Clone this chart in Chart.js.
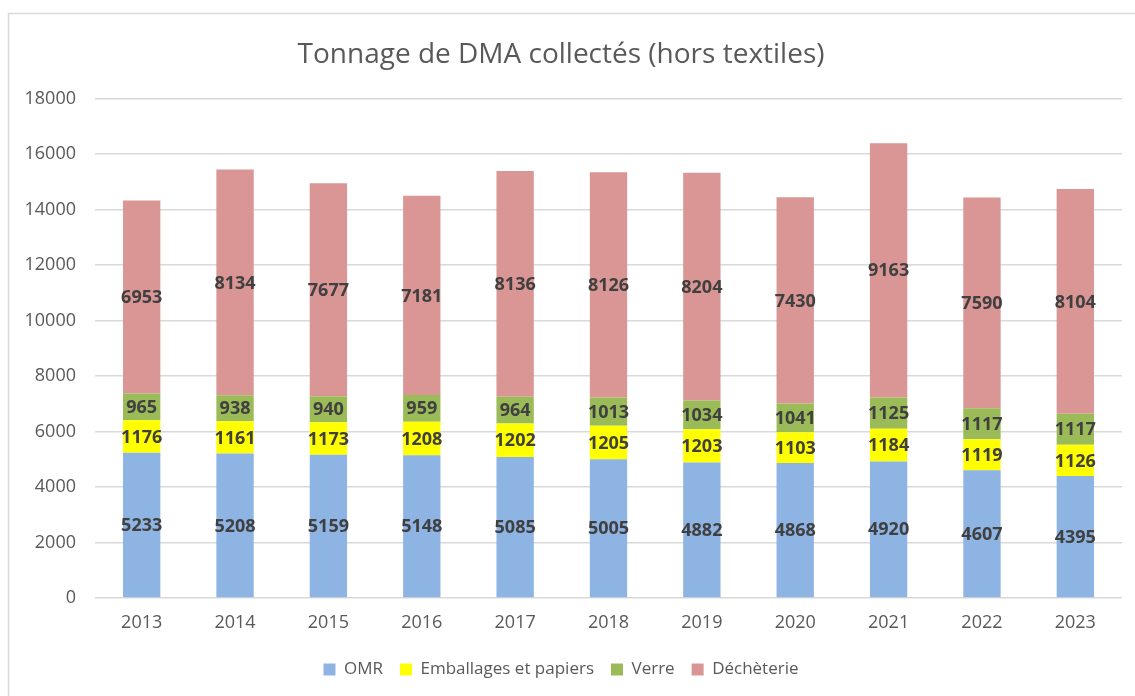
<!DOCTYPE html>
<html>
<head>
<meta charset="utf-8">
<script src="https://cdn.jsdelivr.net/npm/chart.js@4"></script>
<style>
  html, body { margin: 0; padding: 0; background: #ffffff; }
  #wrap { position: relative; width: 1135px; height: 696px; }
</style>
</head>
<body>
<div id="wrap"><canvas id="c" width="1135" height="696"></canvas></div>
<script>
const years = ['2013','2014','2015','2016','2017','2018','2019','2020','2021','2022','2023'];
const omr = [5233, 5208, 5159, 5148, 5085, 5005, 4882, 4868, 4920, 4607, 4395];
const emballages = [1176, 1161, 1173, 1208, 1202, 1205, 1203, 1103, 1184, 1119, 1126];
const verre = [965, 938, 940, 959, 964, 1013, 1034, 1041, 1125, 1117, 1117];
const decheterie = [6953, 8134, 7677, 7181, 8136, 8126, 8204, 7430, 9163, 7590, 8104];
const seriesNames = ['OMR', 'Emballages et papiers', 'Verre', 'Déchèterie'];
const titleText = 'Tonnage de DMA collectés (hors textiles)';
const yMin = 0, yMax = 18000, yStep = 2000;

const colors = ['#8EB4E3', '#FFFF00', '#9BBB59', '#D99694'];
const FONT = "'Open Sans', 'Liberation Sans', sans-serif";

const frameBorder = {
  id: 'frameBorder',
  beforeDraw(chart) {
    const ctx = chart.ctx;
    ctx.save();
    ctx.fillStyle = '#ffffff';
    ctx.fillRect(0, 0, chart.width, chart.height);
    ctx.strokeStyle = '#d9d9d9';
    ctx.lineWidth = 1.5;
    ctx.strokeRect(8.5, 13.5, chart.width + 20, chart.height + 20);
    ctx.restore();
  }
};

const segLabels = {
  id: 'segLabels',
  afterDatasetsDraw(chart) {
    const ctx = chart.ctx;
    ctx.save();
    ctx.font = "bold 18px " + FONT;
    ctx.fillStyle = '#404040';
    ctx.textAlign = 'center';
    ctx.textBaseline = 'middle';
    chart.data.datasets.forEach((ds, i) => {
      const meta = chart.getDatasetMeta(i);
      meta.data.forEach((el, j) => {
        const p = el.getProps(['x', 'y', 'base'], true);
        ctx.fillText(String(ds.data[j]), p.x, (p.y + p.base) / 2 + 1);
      });
    });
    ctx.restore();
  }
};

const datasets = [omr, emballages, verre, decheterie].map((d, i) => ({
  label: seriesNames[i],
  data: d,
  backgroundColor: colors[i],
  borderWidth: 0,
  categoryPercentage: 1.0,
  barPercentage: 0.4
}));

new Chart(document.getElementById('c'), {
  type: 'bar',
  data: { labels: years, datasets },
  options: {
    responsive: false,
    animation: false,
    devicePixelRatio: 1,
    layout: { padding: { left: 0, right: 13, top: 0, bottom: 8 } },
    plugins: {
      title: {
        display: true,
        text: titleText,
        color: '#595959',
        font: { family: FONT, size: 28, weight: 'normal' },
        padding: { top: 38, bottom: 27 }
      },
      legend: {
        position: 'bottom',
        labels: {
          color: '#595959',
          font: { family: FONT, size: 17 },
          boxWidth: 12,
          boxHeight: 12,
          padding: 17
        }
      },
      tooltip: { enabled: false }
    },
    scales: {
      x: {
        stacked: true,
        grid: { display: false, drawTicks: false },
        border: { display: false },
        ticks: { color: '#595959', font: { family: FONT, size: 18 }, padding: 14 },
        afterFit(scale) { scale.height = 46; }
      },
      y: {
        stacked: true,
        min: yMin,
        max: yMax,
        grid: { color: '#d9d9d9', lineWidth: 1.5, drawTicks: false },
        border: { display: false },
        ticks: {
          stepSize: yStep,
          color: '#595959',
          font: { family: FONT, size: 18 },
          padding: 19,
          callback: (v) => String(v)
        },
        afterFit(scale) { scale.width = 95; }
      }
    }
  },
  plugins: [frameBorder, segLabels]
});
</script>
</body>
</html>
